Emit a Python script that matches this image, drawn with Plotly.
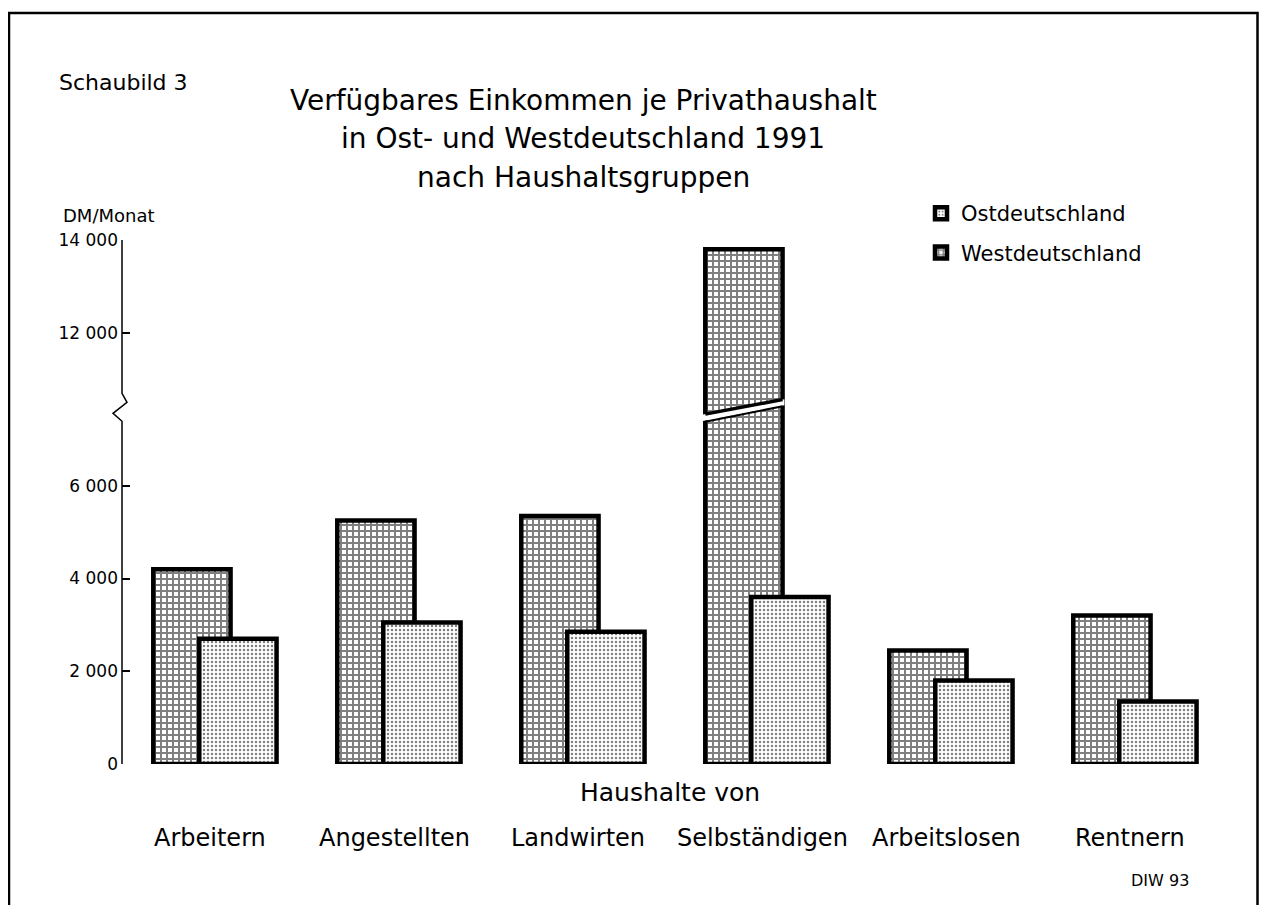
import plotly.graph_objects as go

# ---- data ----
categories = ["Arbeitern", "Angestellten", "Landwirten", "Selbständigen", "Arbeitslosen", "Rentnern"]
west = [4200, 5250, 5350, 13800, 2450, 3200]
ost = [2700, 3050, 2850, 3600, 1800, 1350]
tick_values = [0, 2000, 4000, 6000, 12000, 14000]
series_names = ["Westdeutschland", "Ostdeutschland"]

# broken axis: values above the break are shifted down
BREAK_LOW = 8000
BREAK_SHIFT = 2700


def to_axis(v):
    return v if v <= BREAK_LOW else v - BREAK_SHIFT


# plot area in page pixels: x 122..1226, y 240..764
def px(xp):
    return (xp - 122) / 1104


def py(yp):
    return (764 - yp) / 524


x_pos = list(range(len(categories)))
FONT = "DejaVu Sans"

fig = go.Figure()
fig.add_trace(go.Bar(
    x=x_pos, y=[to_axis(v) for v in west], name=series_names[0],
    width=0.42, offset=-0.33, legendrank=2, legendgroup="w",
    marker=dict(color="white", line=dict(color="black", width=4.5),
                pattern=dict(shape="+", size=6, solidity=0.55, fgcolor="black", bgcolor="white")),
    customdata=west, hovertemplate="%{customdata}<extra></extra>",
))
fig.add_trace(go.Bar(
    x=x_pos, y=[to_axis(v) for v in ost], name=series_names[1],
    width=0.42, offset=-0.08, legendrank=1, legendgroup="o",
    marker=dict(color="white", line=dict(color="black", width=4.5),
                pattern=dict(shape=".", size=4, solidity=0.3, fgcolor="black", bgcolor="white")),
    customdata=ost, hovertemplate="%{customdata}<extra></extra>",
))

shapes = []
# axis line with zigzag break
z = [to_axis(0), 7994, 7800, 7563, 7390, to_axis(14000)]
path = (f"M 0,{z[0]} L 0,{z[4]} L -9,{z[3]} L 5,{z[2]} L 0,{z[1]} L 0,{z[5]}")
shapes.append(dict(type="path", xref="paper", yref="y", xsizemode="pixel", xanchor=0,
                   path=path, line=dict(color="black", width=1.5)))

# break in the tallest bar
bi = west.index(max(west))
xl, xr = bi - 0.35, bi + 0.10
shapes.append(dict(type="path", xref="x", yref="y",
                   path=f"M {xl},{7390} L {xr},{7735} L {xr},{7864} L {xl},{7530} Z",
                   fillcolor="white", line=dict(width=0)))
shapes.append(dict(type="line", xref="x", yref="y", x0=bi - 0.33, y0=7545, x1=bi + 0.09, y1=7860,
                   line=dict(color="black", width=3.5)))
shapes.append(dict(type="line", xref="x", yref="y", x0=bi - 0.33, y0=7380, x1=bi + 0.09, y1=7715,
                   line=dict(color="black", width=2)))

# outer frame (bottom cut off)
shapes.append(dict(type="path", xref="paper", yref="paper",
                   path=f"M {px(9)},{py(960)} L {px(9)},{py(13)} L {px(1257.5)},{py(13)} L {px(1257.5)},{py(960)}",
                   line=dict(color="black", width=2.5)))

annotations = []
annotations.append(dict(text="Schaubild 3", xref="paper", yref="paper", x=px(57), y=py(82),
                        xanchor="left", yanchor="middle", showarrow=False,
                        font=dict(family=FONT, size=22, color="black")))
title_lines = ["Verfügbares Einkommen je Privathaushalt",
               "in Ost- und Westdeutschland 1991",
               "nach Haushaltsgruppen"]
for line, yy in zip(title_lines, [100, 139, 177]):
    annotations.append(dict(text=line, xref="paper", yref="paper", x=px(583), y=py(yy),
                            xanchor="center", yanchor="middle", showarrow=False,
                            font=dict(family=FONT, size=28, color="black")))
annotations.append(dict(text="DM/Monat", xref="paper", yref="paper", x=px(61), y=py(216),
                        xanchor="left", yanchor="middle", showarrow=False,
                        font=dict(family=FONT, size=18, color="black")))
annotations.append(dict(text="Haushalte von", xref="paper", yref="paper", x=px(670), y=py(792),
                        xanchor="center", yanchor="middle", showarrow=False,
                        font=dict(family=FONT, size=25, color="black")))
for i, c in enumerate(categories):
    annotations.append(dict(text=c, xref="x", yref="paper", x=i - 0.02, y=py(838),
                            xanchor="center", yanchor="middle", showarrow=False,
                            font=dict(family=FONT, size=24, color="black")))
annotations.append(dict(text="DIW 93", xref="paper", yref="paper", x=px(1191), y=py(880),
                        xanchor="right", yanchor="middle", showarrow=False,
                        font=dict(family=FONT, size=16, color="black")))

fig.update_layout(
    width=1251, height=897, autosize=False,
    margin=dict(l=114, r=33, t=232, b=141, pad=0),
    paper_bgcolor="white", plot_bgcolor="white",
    barmode="overlay",
    showlegend=True,
    legend=dict(x=px(921), y=py(193), xanchor="left", yanchor="top",
                traceorder="grouped", tracegroupgap=9, itemwidth=30,
                font=dict(family=FONT, size=21, color="black"), bgcolor="rgba(0,0,0,0)"),
    xaxis=dict(range=[-0.5, 5.5], showticklabels=False, showgrid=False, zeroline=False,
               showline=False, ticks=""),
    yaxis=dict(range=[0, to_axis(14000)], tickvals=[to_axis(v) for v in tick_values],
               ticktext=[f"{v:,}".replace(",", " ") for v in tick_values],
               ticks="inside", ticklen=8, tickwidth=1.5, tickcolor="black",
               ticklabelstandoff=3,
               showgrid=False, zeroline=False, showline=False,
               tickfont=dict(family=FONT, size=17, color="black")),
    shapes=shapes, annotations=annotations,
    font=dict(family=FONT, color="black"),
)

fig.write_html("out.html")
